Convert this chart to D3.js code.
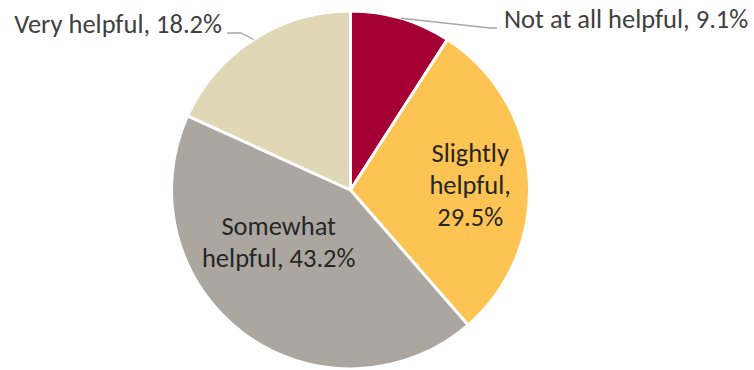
<!DOCTYPE html>
<html>
<head>
<meta charset="utf-8">
<script src="https://cdn.jsdelivr.net/npm/d3@7"></script>
<style>
  body { margin: 0; background: #fff; }
  text { font-family: Calibri, Carlito, "Liberation Sans", Arial, sans-serif; }
</style>
</head>
<body>
<div class="chart"></div>
<script>
var svgWidth = 754;
var svgHeight = 370;

// data
var categories = ["Not at all helpful", "Slightly helpful", "Somewhat helpful", "Very helpful"];
var shares = [9.1, 29.5, 43.2, 18.2];
var colors = ["#A50034", "#FDC453", "#ACA6A1", "#E0D7B6"];

var cx = 350.5, cy = 190, radius = 179;
var fontSize = "26.5px";

var svg = d3.select(".chart")
  .append("svg")
  .attr("width", svgWidth)
  .attr("height", svgHeight);

var pieGroup = svg.append("g")
  .attr("transform", `translate(${cx}, ${cy})`);

var pie = d3.pie().sort(null).value(d => d);
var arcs = pie(shares);

var arc = d3.arc().innerRadius(0).outerRadius(radius);

pieGroup.selectAll("path")
  .data(arcs)
  .enter().append("path")
  .attr("d", arc)
  .attr("fill", (d, i) => colors[i])
  .attr("stroke", "#fff")
  .attr("stroke-width", 3)
  .attr("stroke-linejoin", "round");

// inside labels (Slightly, Somewhat)
var inside = {
  1: { lines: ["Slightly", "helpful,", "29.5%"], r: 120, dx: 0, dy: 5 },
  2: { lines: ["Somewhat", "helpful, 43.2%"], r: 90, dx: -18, dy: -19 }
};
var lineH = 32;

Object.keys(inside).forEach(function (k) {
  var i = +k;
  var cfg = inside[k];
  var labelArc = d3.arc().innerRadius(cfg.r).outerRadius(cfg.r);
  var c = labelArc.centroid(arcs[i]);
  var n = cfg.lines.length;
  var t = pieGroup.append("text")
    .attr("text-anchor", "middle")
    .attr("font-size", fontSize)
    .attr("fill", "#262626");
  cfg.lines.forEach(function (line, j) {
    t.append("tspan")
      .attr("x", c[0] + cfg.dx)
      .attr("y", c[1] + cfg.dy + (j - (n - 1) / 2) * lineH + 8)
      .text(line);
  });
});

// outside labels with leader lines
var outside = {
  0: { elbow: [490 - cx, 28 - cy], end: [497 - cx, 28 - cy], x: 504 - cx, y: 28 - cy, anchor: "start" },
  3: { elbow: [241 - cx, 33 - cy], end: [227 - cx, 33 - cy], x: 222 - cx, y: 33 - cy, anchor: "end" }
};

Object.keys(outside).forEach(function (k) {
  var i = +k;
  var cfg = outside[k];
  var edgeArc = d3.arc().innerRadius(radius).outerRadius(radius);
  var p = edgeArc.centroid(arcs[i]);
  pieGroup.append("polyline")
    .attr("points", [p, cfg.elbow, cfg.end].map(q => q.join(",")).join(" "))
    .attr("fill", "none")
    .attr("stroke", "#A6A6A6")
    .attr("stroke-width", 1.3);
  pieGroup.append("text")
    .attr("x", cfg.x)
    .attr("y", cfg.y)
    .attr("text-anchor", cfg.anchor)
    .attr("font-size", fontSize)
    .attr("fill", "#404040")
    .text(categories[i] + ", " + shares[i].toFixed(1) + "%");
});
</script>
</body>
</html>
